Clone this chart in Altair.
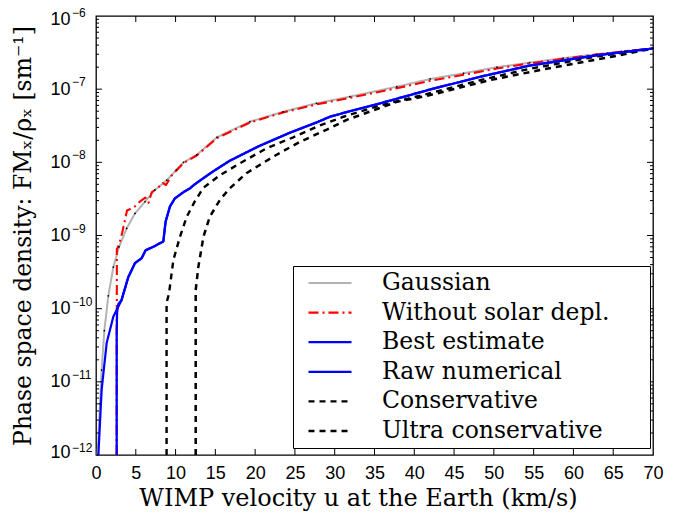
import altair as alt
import pandas as pd

# ---------------- data ----------------
names = ["Gaussian", "Without solar depl.", "Best estimate", "Raw numerical",
         "Conservative", "Ultra conservative"]

gauss_u = [0.2, 0.5, 0.71, 1.05, 1.55, 2.18, 2.9, 3.85, 4.9, 6.16, 7.4, 8.9, 10.1, 11.0,
           12.65, 15.2, 19.35, 23.5, 27.7, 31.9, 37.8, 42.0, 46.2, 50.4, 54.5, 58.7,
           62.9, 66.5, 70.0]
gauss_v = [1e-12, 5e-12, 1.45e-11, 5e-11, 1.5e-10, 3.7e-10, 7e-10, 1.25e-9, 2e-9, 2.9e-9,
           4.2e-9, 5.7e-9, 7.9e-9, 1.0e-8, 1.26e-8, 2.2e-8, 3.6e-8, 4.9e-8, 6.4e-8, 7.9e-8,
           1.08e-7, 1.38e-7, 1.65e-7, 2.0e-7, 2.3e-7, 2.65e-7, 3.0e-7, 3.3e-7, 3.6e-7]

nosol_u = [2.6, 2.62, 2.9, 3.3, 3.9, 4.3, 4.9, 5.5, 6.2, 6.6, 7.0, 7.8, 8.4, 8.8, 9.5, 11.0,
           12.65, 15.2, 19.35, 23.5, 27.7, 31.9, 37.8, 42.0, 46.2, 50.4, 54.5, 58.7, 62.9,
           66.5, 70.0]
nosol_v = [1e-12, 6.5e-10, 7.5e-10, 1.1e-9, 2.2e-9, 2.3e-9, 2.5e-9, 2.9e-9, 3.3e-9, 2.8e-9,
           3.9e-9, 4.5e-9, 5.2e-9, 4.9e-9, 6.6e-9, 9.8e-9, 1.24e-8, 2.15e-8, 3.5e-8, 4.8e-8,
           6.2e-8, 7.6e-8, 1.03e-7, 1.3e-7, 1.57e-7, 1.92e-7, 2.25e-7, 2.6e-7, 2.98e-7,
           3.3e-7, 3.6e-7]

best_u = [0.3, 0.71, 1.34, 2.18, 3.2, 4.06, 4.9, 5.74, 6.24, 7.2, 8.46, 8.75, 9.3, 9.9,
          10.97, 11.8, 12.4, 13.7, 14.7, 16.8, 20.4, 24.4, 27.7, 29.4, 31.9, 35.7, 42.0,
          48.3, 54.5, 62.9, 70.0]
best_v = [1e-12, 7.8e-12, 3.4e-11, 7.8e-11, 1.3e-10, 2.7e-10, 4.2e-10, 4.9e-10, 6.3e-10,
          7.0e-10, 8.3e-10, 1.55e-9, 2.5e-9, 3.2e-9, 3.9e-9, 4.4e-9, 5.0e-9, 6.3e-9, 7.5e-9,
          1.05e-8, 1.65e-8, 2.55e-8, 3.5e-8, 4.2e-8, 5.0e-8, 6.4e-8, 9.9e-8, 1.48e-7,
          2.1e-7, 2.9e-7, 3.6e-7]

raw_u = [2.6, 2.6, 2.65, 2.8, 3.2, 4.06, 4.9, 5.74, 6.24, 7.2, 8.46, 8.75, 9.3, 9.9, 10.97,
         11.8, 12.4, 13.7, 14.7, 16.8, 20.4, 24.4, 27.7, 29.4, 31.9, 35.7, 42.0, 48.3, 54.5,
         62.9, 70.0]
raw_v = [1e-12, 5e-11, 9e-11, 1.15e-10, 1.3e-10, 2.7e-10, 4.2e-10, 4.9e-10, 6.3e-10,
         7.0e-10, 8.3e-10, 1.55e-9, 2.5e-9, 3.2e-9, 3.9e-9, 4.4e-9, 5.0e-9, 6.3e-9, 7.5e-9,
         1.05e-8, 1.65e-8, 2.55e-8, 3.5e-8, 4.2e-8, 5.0e-8, 6.4e-8, 9.9e-8, 1.48e-7,
         2.1e-7, 2.9e-7, 3.6e-7]

cons_u = [8.87, 8.87, 9.17, 9.72, 10.55, 11.4, 12.4, 13.5, 15.6, 18.1, 21.45, 24.8, 28.15,
          31.1, 35.7, 42.0, 48.3, 54.5, 62.9, 70.0]
cons_v = [1e-12, 1.2e-10, 1.6e-10, 4.6e-10, 9.6e-10, 1.8e-9, 2.9e-9, 4.5e-9, 6.7e-9, 9.7e-9,
          1.56e-8, 2.2e-8, 3.2e-8, 4.2e-8, 6.0e-8, 8.8e-8, 1.33e-7, 1.9e-7, 2.8e-7, 3.6e-7]

ultra_u = [12.53, 12.53, 12.86, 13.5, 14.3, 15.6, 16.8, 18.9, 22.3, 25.6, 29.0, 31.5, 37.8,
           42.0, 49.5, 56.6, 65.0, 70.0]
ultra_v = [1e-12, 1.8e-10, 3.7e-10, 9.6e-10, 1.8e-9, 3.1e-9, 4.4e-9, 7.1e-9, 1.2e-8, 1.9e-8,
           2.8e-8, 3.8e-8, 6.7e-8, 8.3e-8, 1.33e-7, 1.9e-7, 2.8e-7, 3.6e-7]

x_ticks = list(range(0, 71, 5))
y_decades = [1e-12, 1e-11, 1e-10, 1e-9, 1e-8, 1e-7, 1e-6]
y_exponents = ["\u221212", "\u221211", "\u221210", "\u22129", "\u22128", "\u22127", "\u22126"]

# ---------------- styles ----------------
colors = ["#b3b3b3", "#ff0000", "#0000ff", "#0000ff", "#000000", "#000000"]
dashes = [[1, 0], [10, 4, 2, 4], [1, 0], [1, 0], [6, 5], [6, 5]]
widths = [2.0, 2.5, 2.5, 1.0, 2.5, 1.2]

W, H = 557, 439

series = [(names[0], gauss_u, gauss_v), (names[1], nosol_u, nosol_v),
          (names[4], cons_u, cons_v), (names[5], ultra_u, ultra_v),
          (names[3], raw_u, raw_v), (names[2], best_u, best_v)]
rows = []
for name, us, vs in series:
    for i, (u, v) in enumerate(zip(us, vs)):
        rows.append({"s": name, "u": u, "v": v, "i": i})
df = pd.DataFrame(rows)
gdf = pd.DataFrame({"u": gauss_u, "v": gauss_v})

xscale = alt.Scale(domain=[0, 70], nice=False, zero=False)
yscale = alt.Scale(type="log", domain=[1e-12, 1e-6], nice=False)

legend = alt.Legend(
    title=None, orient="none", legendX=197, legendY=250,
    fillColor="white", strokeColor="black", padding=5, symbolOffset=9,
    symbolType="stroke", symbolSize=1849, labelOffset=29, clipHeight=24,
    labelFont="DejaVu Serif", labelFontSize=23.5, labelColor="black", labelLimit=600,
    labelExpr="datum.label + '\u2003\u2002\u200b'",
    rowPadding=5.6, cornerRadius=0,
)

xaxis = alt.Axis(values=x_ticks, ticks=False, tickSize=0, domain=False, grid=False,
                 labelFont="Liberation Sans", labelFontSize=18, labelColor="black",
                 labelPadding=9, labelFlush=False, labelOverlap=False,
                 title="WIMP velocity u at the Earth (km/s)",
                 titleFont="DejaVu Serif", titleFontSize=24, titleFontWeight="normal",
                 titleColor="black", titleX=262, titleY=43, titleBaseline="middle",
                 titleAlign="center")
yaxis = alt.Axis(values=y_decades, labelExpr="'10'", ticks=False, tickSize=0, domain=False,
                 grid=False, labelFont="Liberation Sans", labelFontSize=18,
                 labelColor="black", labelPadding=26, labelAlign="right",
                 labelOverlap=False, labelFlush=True, labelFlushOffset=6,
                 title="Phase space density: FM\u2093/\u03c1\u2093 [sm\u207b\u00b9]",
                 titleFont="DejaVu Serif", titleFontSize=23.5, titleFontWeight="normal",
                 titleColor="black", titleAngle=270, titleX=-73, titleY=H / 2,
                 titleBaseline="middle", titleAlign="center")

xq = alt.X("u:Q", scale=xscale, axis=xaxis)
yq = alt.Y("v:Q", scale=yscale, axis=yaxis)

lines = alt.Chart(df).mark_line(strokeJoin="round", clip=True).encode(
    x=xq, y=yq,
    color=alt.Color("s:N", scale=alt.Scale(domain=names, range=colors), legend=legend),
    strokeDash=alt.StrokeDash("s:N", scale=alt.Scale(domain=names, range=dashes), legend=legend),
    strokeWidth=alt.StrokeWidth("s:N", scale=alt.Scale(domain=names, range=widths), legend=legend),
    order="i:Q",
)

dots = alt.Chart(gdf).mark_circle(color="black", size=3, opacity=1).encode(x=xq, y=yq)

# inward ticks
xt = pd.DataFrame({"u": x_ticks[1:-1]})
tick_b = alt.Chart(xt).mark_rule(color="black", strokeWidth=1).encode(
    x=xq, y=alt.value(H), y2=alt.value(H - 6))
tick_t = alt.Chart(xt).mark_rule(color="black", strokeWidth=1).encode(
    x=xq, y=alt.value(0), y2=alt.value(6))

ymaj = pd.DataFrame({"v": y_decades[1:-1]})
ymin = pd.DataFrame({"v": [k * d for d in y_decades[:-1] for k in range(2, 10)]})
tick_lmaj = alt.Chart(ymaj).mark_rule(color="black").encode(
    y=yq, x=alt.value(0), x2=alt.value(6))
tick_rmaj = alt.Chart(ymaj).mark_rule(color="black").encode(
    y=yq, x=alt.value(W), x2=alt.value(W - 6))
tick_lmin = alt.Chart(ymin).mark_rule(color="black").encode(
    y=yq, x=alt.value(0), x2=alt.value(3))
tick_rmin = alt.Chart(ymin).mark_rule(color="black").encode(
    y=yq, x=alt.value(W), x2=alt.value(W - 3))

exps_low = pd.DataFrame({"v": y_decades[:-1], "e": y_exponents[:-1]})
exps_top = pd.DataFrame({"v": y_decades[-1:], "e": y_exponents[-1:]})
exp_low = alt.Chart(exps_low).mark_text(align="left", baseline="middle", dy=-7,
                                         font="Liberation Sans", fontSize=12,
                                         color="black").encode(
    y=yq, x=alt.value(-24), text="e:N")
exp_top = alt.Chart(exps_top).mark_text(align="left", baseline="middle", dy=-3,
                                         font="Liberation Sans", fontSize=12,
                                         color="black").encode(
    y=yq, x=alt.value(-24), text="e:N")

chart = alt.layer(lines, dots, tick_b, tick_t, tick_lmaj, tick_rmaj, tick_lmin,
                  tick_rmin, exp_low, exp_top).properties(
    width=W, height=H,
    padding={"left": 88, "top": 8, "right": 29, "bottom": 56},
    autosize=alt.AutoSizeParams(type="none"),
    background="white",
).configure_view(stroke="black", strokeWidth=1.3)

chart.save("out.html", embed_options={"renderer": "svg", "actions": False})
